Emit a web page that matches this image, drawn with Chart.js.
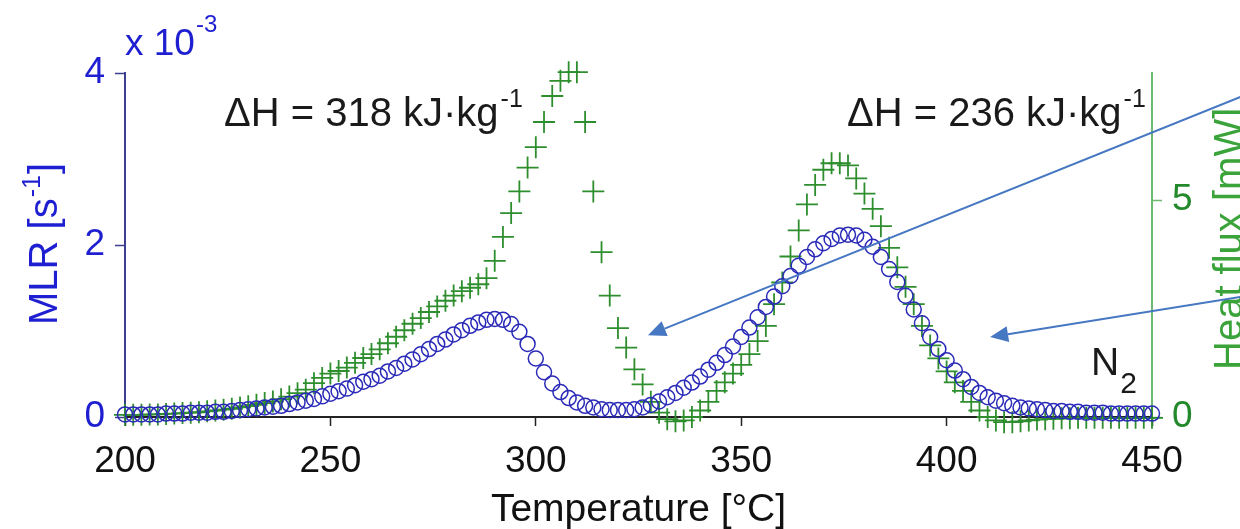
<!DOCTYPE html>
<html><head><meta charset="utf-8">
<script src="https://cdn.jsdelivr.net/npm/chart.js@4/dist/chart.umd.min.js"></script>
<style>html,body{margin:0;padding:0;background:#fff}#wrap{width:1240px;height:529px}</style>
</head><body><div id="wrap"><canvas id="c" width="1240" height="529"></canvas></div>
<script>
// Temperature grid [°C]
const temperature = [
 200,202,204,206,208,210,212,214,216,218,
 220,222,224,226,228,230,232,234,236,238,
 240,242,244,246,248,250,252,254,256,258,
 260,262,264,266,268,270,272,274,276,278,
 280,282,284,286,288,290,292,294,296,298,
 300,302,304,306,308,310,312,314,316,318,
 320,322,324,326,328,330,332,334,336,338,
 340,342,344,346,348,350,352,354,356,358,
 360,362,364,366,368,370,372,374,376,378,
 380,382,384,386,388,390,392,394,396,398,
 400,402,404,406,408,410,412,414,416,418,
 420,422,424,426,428,430,432,434,436,438,
 440,442,444,446,448,450];
// MLR [s^-1] in units of 1e-3
const mlr = [
 0.03,0.03,0.03,0.03,0.03,0.04,0.04,0.04,0.05,0.05,
 0.05,0.06,0.06,0.07,0.08,0.09,0.10,0.11,0.12,0.13,
 0.15,0.17,0.19,0.21,0.24,0.27,0.30,0.33,0.37,0.41,
 0.44,0.48,0.53,0.57,0.62,0.67,0.73,0.79,0.85,0.90,
 0.96,1.01,1.06,1.10,1.13,1.14,1.13,1.08,0.99,0.85,
 0.68,0.52,0.39,0.29,0.22,0.17,0.13,0.11,0.09,0.08,
 0.08,0.08,0.09,0.11,0.14,0.18,0.23,0.28,0.34,0.40,
 0.47,0.55,0.63,0.72,0.82,0.93,1.04,1.16,1.28,1.40,
 1.52,1.64,1.76,1.86,1.95,2.02,2.07,2.11,2.12,2.11,
 2.06,1.98,1.86,1.72,1.57,1.41,1.25,1.09,0.93,0.79,
 0.66,0.54,0.44,0.35,0.28,0.23,0.19,0.16,0.13,0.11,
 0.10,0.09,0.08,0.07,0.07,0.06,0.06,0.05,0.05,0.05,
 0.04,0.04,0.04,0.04,0.04,0.04];
// Heat flux [mW]
const heatFlux = [
 0.05,0.05,0.05,0.06,0.06,0.07,0.08,0.09,0.10,0.11,
 0.13,0.15,0.17,0.19,0.22,0.25,0.28,0.32,0.36,0.41,
 0.47,0.55,0.63,0.78,0.90,1.00,1.06,1.14,1.25,1.36,
 1.45,1.56,1.70,1.85,2.00,2.15,2.28,2.42,2.55,2.68,
 2.80,2.90,2.98,3.06,3.20,3.60,4.15,4.70,5.20,5.75,
 6.22,6.80,7.40,7.75,7.95,7.95,6.80,5.20,3.80,2.80,
 2.05,1.60,1.10,0.75,0.35,0.10,-0.05,-0.10,-0.08,0.00,
 0.15,0.35,0.60,0.80,1.00,1.20,1.45,1.75,2.10,2.60,
 3.10,3.70,4.30,4.90,5.35,5.70,5.85,5.85,5.80,5.50,
 5.15,4.80,4.40,3.90,3.45,3.00,2.60,2.10,1.65,1.35,
 1.05,0.80,0.60,0.35,0.15,0.00,-0.08,-0.12,-0.12,-0.10,
 -0.08,-0.06,-0.05,-0.04,-0.03,-0.03,-0.02,-0.02,-0.02,-0.02,
 -0.02,-0.02,-0.02,-0.02,-0.02,-0.02];
const xTicks = [200,250,300,350,400,450];
const mlrTicks = [0,2,4];
const hfTicks = [0,5];

const FAM = '"Liberation Sans", Arial, sans-serif';
const BLUE_TXT = '#1f1fd2';
const BLUE_AX = '#3c3c90';
const BLUE_PT = '#2a2ab8';
const GREEN_TXT = '#23892a';
const GREEN_TITLE = '#3aa33a';
const GREEN_AX = '#6cb86c';
const GREEN_PT = '#2e8e2e';
const ARROW = '#4677c2';

function F(s){ return s + 'px ' + FAM; }

function arrow(ctx, x0, y0, x1, y1){
  const a = Math.atan2(y1 - y0, x1 - x0);
  const L = 18, W = 8;
  const bx = x1 - L * Math.cos(a), by = y1 - L * Math.sin(a);
  ctx.beginPath(); ctx.moveTo(x0, y0); ctx.lineTo(bx, by); ctx.stroke();
  ctx.beginPath(); ctx.moveTo(x1, y1);
  ctx.lineTo(bx + W * Math.sin(a), by - W * Math.cos(a));
  ctx.lineTo(bx - W * Math.sin(a), by + W * Math.cos(a));
  ctx.closePath(); ctx.fill();
}

const annot = {
  id: 'annot',
  afterDraw(chart){
    const ctx = chart.ctx;
    const {x, y} = chart.scales;
    ctx.save();
    ctx.textAlign = 'left'; ctx.textBaseline = 'alphabetic';
    // x 10^-3
    ctx.fillStyle = BLUE_TXT;
    ctx.font = F(37); ctx.fillText('x 10', 125, 55);
    let w = ctx.measureText('x 10').width;
    ctx.font = F(24); ctx.fillText('-3', 125 + w + 1, 32);
    // MLR title
    ctx.save();
    ctx.translate(57, 325); ctx.rotate(-Math.PI / 2);
    ctx.font = F(40); ctx.fillText('MLR [s', 0, 0);
    w = ctx.measureText('MLR [s').width;
    ctx.font = F(25); ctx.fillText('-1', w + 1, -17);
    const w2 = ctx.measureText('-1').width;
    ctx.font = F(40); ctx.fillText(']', w + w2 + 2, 0);
    ctx.restore();
    // Heat flux title
    ctx.save();
    ctx.fillStyle = GREEN_TITLE;
    ctx.translate(1242, 370); ctx.rotate(-Math.PI / 2);
    ctx.font = F(40); ctx.fillText('Heat flux [mW]', 0, 0);
    ctx.restore();
    // Temperature title
    ctx.fillStyle = '#111';
    ctx.textAlign = 'center';
    ctx.font = F(39);
    ctx.fillText('Temperature [°C]', (chart.chartArea.left + chart.chartArea.right) / 2, 521);
    ctx.textAlign = 'left';
    // Delta H annotations
    ctx.fillStyle = '#1a1a1a';
    ctx.font = F(40); ctx.fillText('ΔH = 318 kJ·kg', 224, 126);
    w = ctx.measureText('ΔH = 318 kJ·kg').width;
    ctx.font = F(25); ctx.fillText('-1', 224 + w + 2, 107);
    ctx.font = F(40); ctx.fillText('ΔH = 236 kJ·kg', 847, 126);
    w = ctx.measureText('ΔH = 236 kJ·kg').width;
    ctx.font = F(25); ctx.fillText('-1', 847 + w + 2, 107);
    // N2
    ctx.font = F(39); ctx.fillText('N', 1091, 375);
    w = ctx.measureText('N').width;
    ctx.font = F(30); ctx.fillText('2', 1091 + w + 1, 393);
    // arrows (data coordinates on x and MLR scales)
    ctx.strokeStyle = ARROW; ctx.fillStyle = ARROW; ctx.lineWidth = 2;
    arrow(ctx, x.getPixelForValue(472), y.getPixelForValue(3.73), x.getPixelForValue(327.3), y.getPixelForValue(0.95));
    arrow(ctx, x.getPixelForValue(472), y.getPixelForValue(1.40), x.getPixelForValue(410.6), y.getPixelForValue(0.93));
    ctx.restore();
  }
};

new Chart(document.getElementById('c'), {
  type: 'scatter',
  data: {
    datasets: [
      {
        label: 'MLR',
        data: temperature.map((t, i) => ({x: t, y: mlr[i]})),
        yAxisID: 'y',
        pointStyle: 'circle', pointRadius: 7.5,
        pointBorderColor: BLUE_PT, pointBackgroundColor: 'rgba(0,0,0,0)', pointBorderWidth: 1.5,
        showLine: false, clip: false
      },
      {
        label: 'Heat flux',
        data: temperature.map((t, i) => ({x: t, y: heatFlux[i]})),
        yAxisID: 'y2',
        pointStyle: 'cross', pointRadius: 11,
        pointBorderColor: GREEN_PT, pointBackgroundColor: GREEN_PT, pointBorderWidth: 1.8,
        showLine: false, clip: false
      }
    ]
  },
  options: {
    responsive: false, animation: false, events: [],
    layout: {padding: {top: 73, left: 0, right: 0, bottom: 0}},
    plugins: {legend: {display: false}, tooltip: {enabled: false}},
    scales: {
      x: {
        type: 'linear', position: 'bottom', min: 200, max: 450,
        afterBuildTicks: s => { s.ticks = xTicks.map(v => ({value: v})); },
        afterFit: s => { s.height = 112; },
        grid: {display: true, drawOnChartArea: false, drawTicks: true, tickLength: 9, tickColor: '#222', tickWidth: 1.5},
        border: {display: true, color: '#222', width: 2},
        ticks: {font: {family: FAM, size: 37}, color: '#111', padding: 14, maxRotation: 0, autoSkip: false}
      },
      y: {
        type: 'linear', position: 'left', min: 0, max: 4,
        afterBuildTicks: s => { s.ticks = mlrTicks.map(v => ({value: v})); },
        afterFit: s => { s.width = 125; },
        grid: {display: true, drawOnChartArea: false, drawTicks: true, tickLength: 10, tickColor: BLUE_AX, tickWidth: 1.5},
        border: {display: true, color: BLUE_AX, width: 2},
        ticks: {font: {family: FAM, size: 37}, color: BLUE_TXT, padding: 10}
      },
      y2: {
        type: 'linear', position: 'right', min: 0, max: 7.93,
        afterBuildTicks: s => { s.ticks = hfTicks.map(v => ({value: v})); },
        afterFit: s => { s.width = 88; },
        grid: {display: true, drawOnChartArea: false, drawTicks: true, tickLength: 10, tickColor: GREEN_AX, tickWidth: 1.5},
        border: {display: true, color: GREEN_AX, width: 2},
        ticks: {font: {family: FAM, size: 37}, color: GREEN_TXT, padding: 10}
      }
    }
  },
  plugins: [annot]
});
</script>
</body></html>
